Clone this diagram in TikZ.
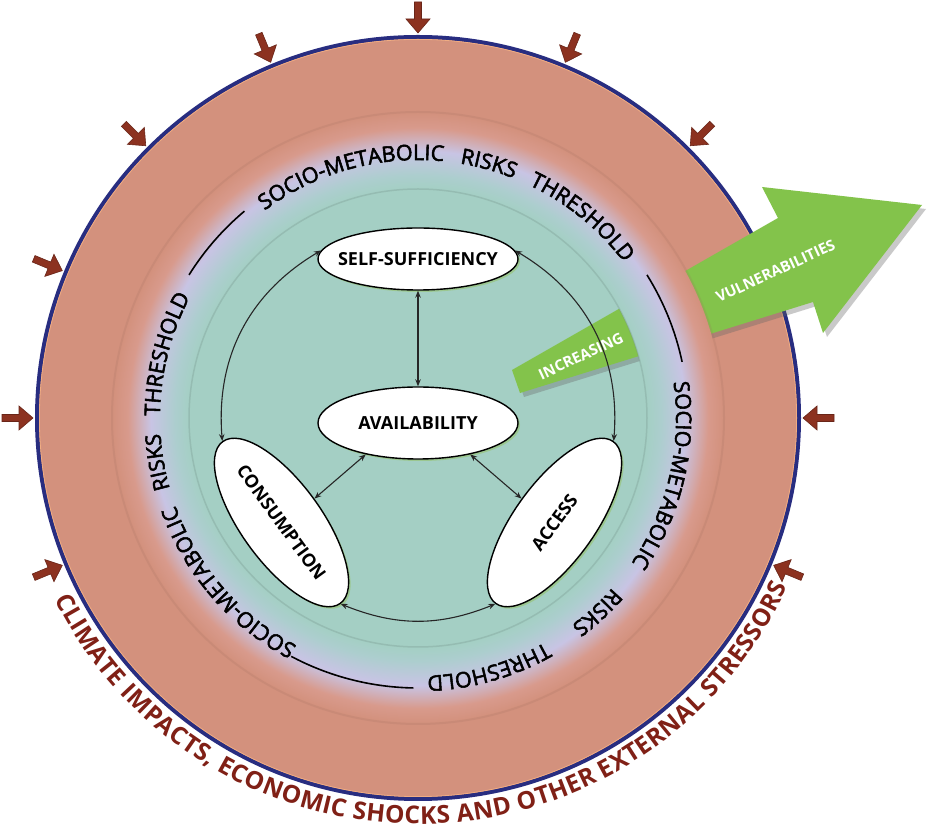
\documentclass[tikz,border=0pt]{standalone}
\usepackage{fontspec}
\setmainfont{Open Sans}
\usetikzlibrary{arrows.meta,shapes.geometric,decorations.text,calc,shadows}
\definecolor{salmon}{RGB}{211,145,125}
\definecolor{salmonedge}{RGB}{216,154,140}
\definecolor{lav}{RGB}{200,196,228}
\definecolor{tealc}{RGB}{164,207,196}
\definecolor{tealmid}{RGB}{172,206,206}
\definecolor{navy}{RGB}{40,45,128}
\definecolor{brownarr}{RGB}{140,50,32}
\definecolor{greenarr}{RGB}{131,195,75}
\definecolor{climred}{RGB}{128,32,22}
\definecolor{hilite}{RGB}{240,172,130}
\pgfdeclareradialshading{ringshade}{\pgfpoint{0bp}{0bp}}{%
 color(0bp)=(tealc); color(18.8bp)=(tealc); color(19.9bp)=(tealmid); color(21.9bp)=(lav); color(23.8bp)=(salmonedge); color(25bp)=(salmon); color(50bp)=(salmon)}
\newfontfamily\ringfont{Open Sans}[FakeBold=2.5]
\tikzset{
  ell/.style={ellipse, draw=black, line width=1.4pt, fill=white, inner sep=0pt,
    font=\bfseries\fontsize{18}{18}\selectfont,
    drop shadow={shadow xshift=2pt, shadow yshift=-2pt, fill={rgb,255:red,150;green,195;blue,110}, opacity=0.6}},
  conn/.style={{Stealth[length=7pt,width=5.5pt]}-{Stealth[length=7pt,width=5.5pt]}, line width=1.1pt, draw=black!85},
  ringline/.style={line width=1.6pt, black},
  arrtext/.style={text=white, font=\bfseries\fontsize{15}{15}\selectfont, inner sep=0pt},
  brownarrow/.pic={\fill[brownarr, draw=brownarr!75!black, line width=0.6pt] (0,0) -- (14,12) -- (14,3.5) -- (31,3.5) -- (31,-3.5) -- (14,-3.5) -- (14,-12) -- cycle;}
}
\begin{document}
\begin{tikzpicture}[x=1pt,y=1pt]
\useasboundingbox (0,0) rectangle (935,830);
\fill[white] (0,0) rectangle (935,830);
\coordinate (C) at (418,412);
% outer ring
\fill[salmon] (C) circle[radius=381];
\draw[navy, line width=4pt] (C) circle[radius=381];
\draw[hilite, line width=0.8pt] (C) circle[radius=378.6];
% gradient band and teal disc
\shade[shading=ringshade] (C) circle[radius=305];
\fill[tealc] (C) circle[radius=229];
% green arrow
\fill[greenarr, drop shadow={shadow xshift=4pt, shadow yshift=-4pt, opacity=0.35, fill=black!60}]
  (512,460) -- (778,612) -- (762,643) -- (922,625) -- (823,497) -- (813,528) -- (520,437) -- cycle;
% band covering the arrow
\shade[shading=ringshade, even odd rule] (C) circle[radius=305] (C) circle[radius=229];
\draw[salmon!75!black, opacity=0.18, line width=2pt] (C) circle[radius=306];
\draw[tealc!70!black, opacity=0.3, line width=1.5pt] (C) circle[radius=229];
% arrow labels
\node[arrtext, rotate=25] (inc) at (581,474) {INCREASING};
\node[arrtext, rotate=24.7] (vul) at (775.5,559) {VULNERABILITIES};
% threshold lines
\draw[ringline] ($(C)+(32:270)$) arc[start angle=32, end angle=12, radius=270];
\draw[ringline] ($(C)+(-91:270)$) arc[start angle=-91, end angle=-118, radius=270];
\draw[ringline] ($(C)+(148:270)$) arc[start angle=148, end angle=130, radius=270];
% threshold texts
\path[decorate, decoration={text along path, text={|\ringfont\fontsize{21.5}{21.5}\selectfont|SOCIO-METABOLIC RISKS THRESHOLD}, text align={fit to path stretching spaces}}]
  ($(C)+(126.5:258)$) arc[start angle=126.5, end angle=37, radius=258];
\path[decorate, decoration={text along path, text={|\ringfont\fontsize{21.5}{21.5}\selectfont|SOCIO-METABOLIC RISKS THRESHOLD}, text align={fit to path stretching spaces}}]
  ($(C)+(8:258)$) arc[start angle=8, end angle=-88, radius=258];
\path[decorate, decoration={text along path, text={|\ringfont\fontsize{21.5}{21.5}\selectfont|SOCIO-METABOLIC RISKS THRESHOLD}, text align={fit to path stretching spaces}}]
  ($(C)+(242:258)$) arc[start angle=242, end angle=152, radius=258];
% nodes
\node[ell, minimum width=200, minimum height=62] (ss) at (418,571) {\makebox[0pt]{SELF-SUFFICIENCY}};
\node[ell, minimum width=200, minimum height=72] (av) at (418,407) {\makebox[0pt]{AVAILABILITY}};
\node[ell, minimum width=200, minimum height=80, rotate=-54] (cons) at (281.5,307.5) {\makebox[0pt]{CONSUMPTION}};
\node[ell, minimum width=200, minimum height=80, rotate=54] (acc) at (554.5,307.5) {\makebox[0pt]{ACCESS}};
% connectors
\draw[conn] (ss.south) -- (av.north);
\draw[conn] (ss.175) to[bend right=32] (cons.west);
\draw[conn] (ss.5) to[bend left=32] (acc.east);
\draw[conn] (cons.east) to[bend right=22] (acc.west);
\draw[conn] (av.211) -- (cons.north);
\draw[conn] (av.329) -- (acc.north);
% stressor arrows
\foreach \a in {-22.5,0,45,67.5,90,112.5,135,157.5,180,202.5}
  \pic[rotate=\a] at ($(C)+(\a:385)$) {brownarrow};
% bottom text
\path[decorate, decoration={text along path, text color=climred, text={|\bfseries\fontsize{24.5}{24.5}\selectfont|CLIMATE IMPACTS, ECONOMIC SHOCKS AND OTHER EXTERNAL STRESSORS}, text align={fit to path}}]
  ($(C)+(206.5:406)$) arc[start angle=206.5, end angle=335.5, radius=406];
\end{tikzpicture}
\end{document}
